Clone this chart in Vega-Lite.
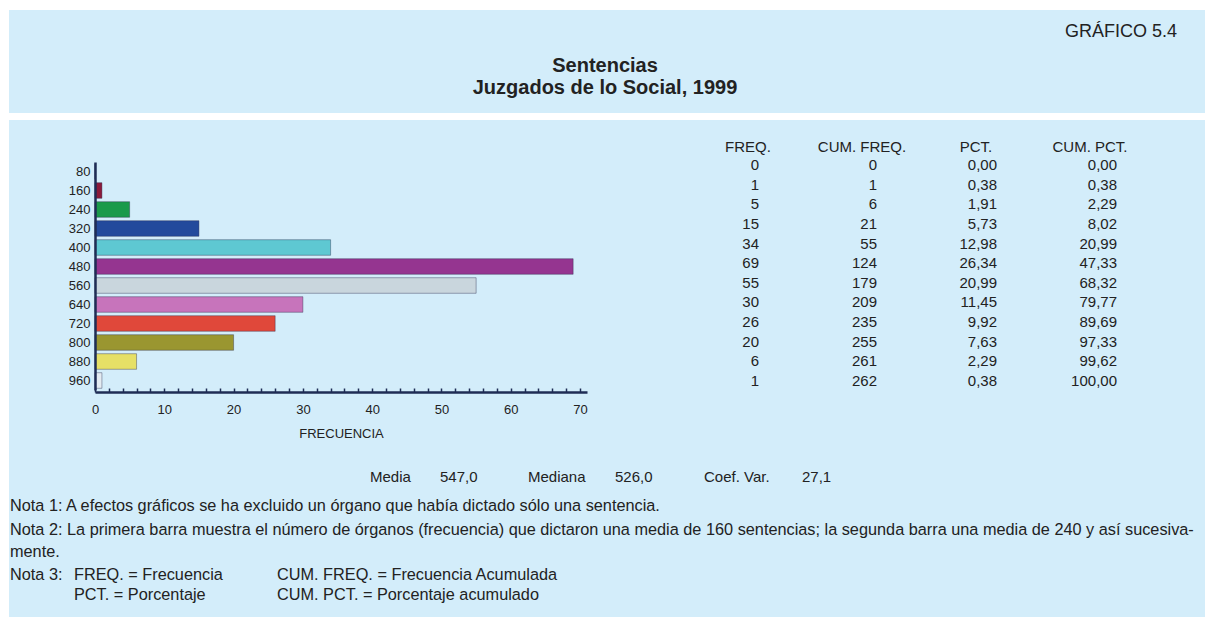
{
  "$schema": "https://vega.github.io/schema/vega-lite/v6.json",
  "width": 1205,
  "height": 617,
  "autosize": {"type": "none"},
  "padding": 0,
  "background": "white",
  "config": {
    "view": {"stroke": null},
    "font": "Liberation Sans",
    "text": {"font": "Liberation Sans", "color": "#222222"},
    "axis": {"labelFont": "Liberation Sans", "titleFont": "Liberation Sans", "grid": false},
    "locale": {"number": {"decimal": ",", "thousands": ".", "grouping": [3], "currency": ["", " €"]}}
  },
  "datasets": {
    "dist": [
      {"cat": "80", "freq": 0, "cumfreq": 0, "pct": 0.00, "cumpct": 0.00},
      {"cat": "160", "freq": 1, "cumfreq": 1, "pct": 0.38, "cumpct": 0.38},
      {"cat": "240", "freq": 5, "cumfreq": 6, "pct": 1.91, "cumpct": 2.29},
      {"cat": "320", "freq": 15, "cumfreq": 21, "pct": 5.73, "cumpct": 8.02},
      {"cat": "400", "freq": 34, "cumfreq": 55, "pct": 12.98, "cumpct": 20.99},
      {"cat": "480", "freq": 69, "cumfreq": 124, "pct": 26.34, "cumpct": 47.33},
      {"cat": "560", "freq": 55, "cumfreq": 179, "pct": 20.99, "cumpct": 68.32},
      {"cat": "640", "freq": 30, "cumfreq": 209, "pct": 11.45, "cumpct": 79.77},
      {"cat": "720", "freq": 26, "cumfreq": 235, "pct": 9.92, "cumpct": 89.69},
      {"cat": "800", "freq": 20, "cumfreq": 255, "pct": 7.63, "cumpct": 97.33},
      {"cat": "880", "freq": 6, "cumfreq": 261, "pct": 2.29, "cumpct": 99.62},
      {"cat": "960", "freq": 1, "cumfreq": 262, "pct": 0.38, "cumpct": 100.00}
    ]
  },
  "layer": [
    {
      "data": {"values": [{}]},
      "mark": {"type": "rect", "color": "#d3edfa"},
      "encoding": {"x": {"value": 9}, "x2": {"value": 1205}, "y": {"value": 10}, "y2": {"value": 113}}
    },
    {
      "data": {"values": [{}]},
      "mark": {"type": "rect", "color": "#d3edfa"},
      "encoding": {"x": {"value": 9}, "x2": {"value": 1205}, "y": {"value": 120}, "y2": {"value": 617}}
    },
    {
      "data": {"values": [{}]},
      "mark": {"type": "text", "text": "GRÁFICO 5.4", "align": "right", "baseline": "middle", "fontSize": 18},
      "encoding": {"x": {"value": 1177}, "y": {"value": 32}}
    },
    {
      "data": {"values": [{}]},
      "mark": {"type": "text", "text": "Sentencias", "align": "center", "baseline": "middle", "fontSize": 20, "fontWeight": "bold"},
      "encoding": {"x": {"value": 605}, "y": {"value": 66}}
    },
    {
      "data": {"values": [{}]},
      "mark": {"type": "text", "text": "Juzgados de lo Social, 1999", "align": "center", "baseline": "middle", "fontSize": 20, "fontWeight": "bold"},
      "encoding": {"x": {"value": 605}, "y": {"value": 88}}
    },
    {
      "data": {"name": "dist"},
      "mark": {"type": "bar", "stroke": "#2a2a4a", "strokeWidth": 0.8, "strokeOpacity": 0.5},
      "encoding": {
        "y": {
          "field": "cat", "type": "ordinal", "sort": null,
          "scale": {"range": [162, 390], "paddingInner": 0.18, "paddingOuter": 0.09},
          "axis": {"title": null, "ticks": false, "zindex": 1, "labelFontSize": 13, "labelColor": "#222222", "labelPadding": 5, "domainColor": "#1f2d55", "domainWidth": 2.5, "offset": -95}
        },
        "x": {
          "field": "freq", "type": "quantitative",
          "scale": {"domain": [0, 71], "range": [95, 587], "nice": false, "zero": true},
          "axis": {
            "zindex": 1,
            "title": "FRECUENCIA", "titleFontSize": 13, "titleFontWeight": "normal", "titleColor": "#222222", "titlePadding": 11,
            "values": [0, 2, 4, 6, 8, 10, 12, 14, 16, 18, 20, 22, 24, 26, 28, 30, 32, 34, 36, 38, 40, 42, 44, 46, 48, 50, 52, 54, 56, 58, 60, 62, 64, 66, 68, 70],
            "labelExpr": "datum.value % 10 === 0 ? datum.label : ''",
            "labelFontSize": 13, "labelColor": "#222222", "labelPadding": 15, "labelFlush": false,
            "tickSize": -4, "tickColor": "#1f2d55", "tickWidth": 1.5,
            "domainColor": "#1f2d55", "domainWidth": 2.5, "offset": -225
          }
        },
        "color": {
          "field": "cat", "type": "ordinal", "legend": null,
          "scale": {
            "domain": ["80", "160", "240", "320", "400", "480", "560", "640", "720", "800", "880", "960"],
            "range": ["#8b1a3a", "#8b1a3a", "#1a9a4a", "#234a9c", "#5ec8d2", "#953590", "#c9d6dd", "#c774bb", "#e0483a", "#9a9630", "#e6e066", "#e4ecf2"]
          }
        }
      }
    },
    {
      "data": {"values": [{"h": "FREQ."}, {"h": "CUM. FREQ."}, {"h": "PCT."}, {"h": "CUM. PCT."}]},
      "mark": {"type": "text", "align": "center", "baseline": "middle", "fontSize": 15},
      "encoding": {
        "x": {"field": "h", "type": "nominal", "sort": null, "scale": {"type": "point", "range": [748, 1090], "padding": 0}, "axis": null},
        "y": {"value": 147},
        "text": {"field": "h"}
      }
    },
    {
      "data": {"name": "dist"},
      "transform": [{"fold": ["freq", "cumfreq"], "as": ["col", "val"]}],
      "mark": {"type": "text", "align": "right", "baseline": "middle", "fontSize": 15},
      "encoding": {
        "x": {"field": "col", "type": "nominal", "sort": null, "scale": {"type": "point", "domain": ["freq", "cumfreq"], "range": [759, 877], "padding": 0}, "axis": null},
        "y": {"field": "cat", "type": "ordinal", "sort": null, "scale": {"type": "point", "range": [165, 381], "padding": 0}, "axis": null},
        "text": {"field": "val", "type": "quantitative", "format": "d"}
      }
    },
    {
      "data": {"name": "dist"},
      "transform": [{"fold": ["pct", "cumpct"], "as": ["col", "val"]}],
      "mark": {"type": "text", "align": "right", "baseline": "middle", "fontSize": 15},
      "encoding": {
        "x": {"field": "col", "type": "nominal", "sort": null, "scale": {"type": "point", "domain": ["pct", "cumpct"], "range": [997, 1117], "padding": 0}, "axis": null},
        "y": {"field": "cat", "type": "ordinal", "sort": null, "scale": {"type": "point", "range": [165, 381], "padding": 0}, "axis": null},
        "text": {"field": "val", "type": "quantitative", "format": ".2f"}
      }
    },
    {
      "data": {"values": [{}]},
      "mark": {"type": "text", "text": "Media", "align": "left", "baseline": "middle", "fontSize": 15},
      "encoding": {"x": {"value": 370}, "y": {"value": 477}}
    },
    {
      "data": {"values": [{}]},
      "mark": {"type": "text", "text": "547,0", "align": "left", "baseline": "middle", "fontSize": 15},
      "encoding": {"x": {"value": 440}, "y": {"value": 477}}
    },
    {
      "data": {"values": [{}]},
      "mark": {"type": "text", "text": "Mediana", "align": "left", "baseline": "middle", "fontSize": 15},
      "encoding": {"x": {"value": 528}, "y": {"value": 477}}
    },
    {
      "data": {"values": [{}]},
      "mark": {"type": "text", "text": "526,0", "align": "left", "baseline": "middle", "fontSize": 15},
      "encoding": {"x": {"value": 615}, "y": {"value": 477}}
    },
    {
      "data": {"values": [{}]},
      "mark": {"type": "text", "text": "Coef. Var.", "align": "left", "baseline": "middle", "fontSize": 15},
      "encoding": {"x": {"value": 704}, "y": {"value": 477}}
    },
    {
      "data": {"values": [{}]},
      "mark": {"type": "text", "text": "27,1", "align": "left", "baseline": "middle", "fontSize": 15},
      "encoding": {"x": {"value": 802}, "y": {"value": 477}}
    },
    {
      "data": {"values": [{}]},
      "mark": {"type": "text", "text": "Nota 1: A efectos gráficos se ha excluido un órgano que había dictado sólo una sentencia.", "align": "left", "baseline": "middle", "fontSize": 16.3},
      "encoding": {"x": {"value": 10}, "y": {"value": 506}}
    },
    {
      "data": {"values": [{}]},
      "mark": {"type": "text", "text": "Nota 2: La primera barra muestra el número de órganos (frecuencia) que dictaron una media de 160 sentencias; la segunda barra una media de 240 y así sucesiva-", "align": "left", "baseline": "middle", "fontSize": 16.3},
      "encoding": {"x": {"value": 10}, "y": {"value": 530}}
    },
    {
      "data": {"values": [{}]},
      "mark": {"type": "text", "text": "mente.", "align": "left", "baseline": "middle", "fontSize": 16.3},
      "encoding": {"x": {"value": 10}, "y": {"value": 552}}
    },
    {
      "data": {"values": [{}]},
      "mark": {"type": "text", "text": "Nota 3:", "align": "left", "baseline": "middle", "fontSize": 16.3},
      "encoding": {"x": {"value": 10}, "y": {"value": 575}}
    },
    {
      "data": {"values": [{}]},
      "mark": {"type": "text", "text": "FREQ. = Frecuencia", "align": "left", "baseline": "middle", "fontSize": 16.3},
      "encoding": {"x": {"value": 74}, "y": {"value": 575}}
    },
    {
      "data": {"values": [{}]},
      "mark": {"type": "text", "text": "CUM. FREQ. = Frecuencia Acumulada", "align": "left", "baseline": "middle", "fontSize": 16.3},
      "encoding": {"x": {"value": 277}, "y": {"value": 575}}
    },
    {
      "data": {"values": [{}]},
      "mark": {"type": "text", "text": "PCT. = Porcentaje", "align": "left", "baseline": "middle", "fontSize": 16.3},
      "encoding": {"x": {"value": 74}, "y": {"value": 595}}
    },
    {
      "data": {"values": [{}]},
      "mark": {"type": "text", "text": "CUM. PCT. = Porcentaje acumulado", "align": "left", "baseline": "middle", "fontSize": 16.3},
      "encoding": {"x": {"value": 277}, "y": {"value": 595}}
    }
  ],
  "resolve": {"scale": {"x": "independent", "y": "independent", "color": "independent"}, "axis": {"x": "independent", "y": "independent"}}
}
